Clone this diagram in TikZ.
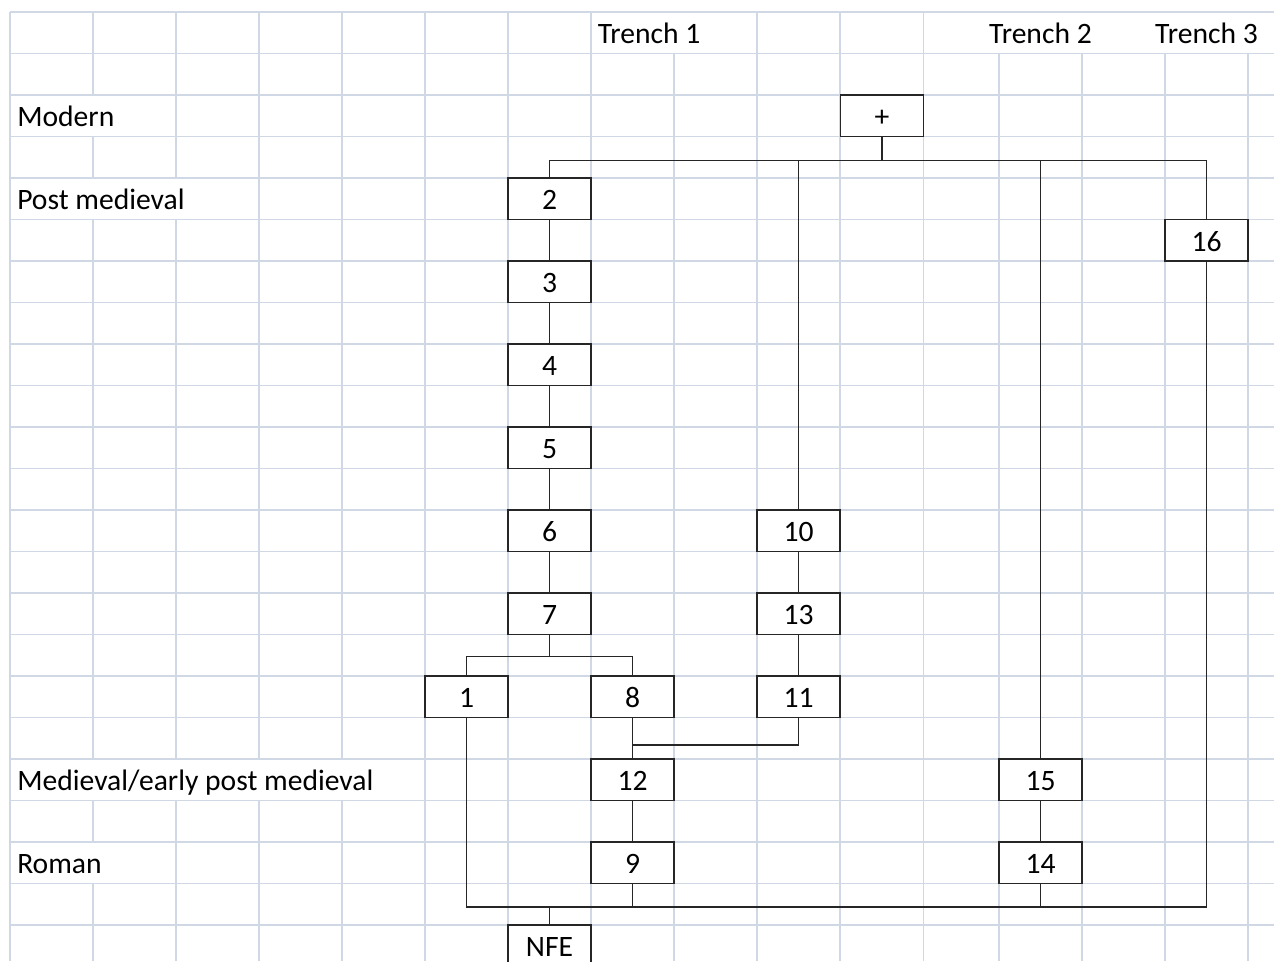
\documentclass[tikz,border=0pt]{standalone}
\usepackage{fontspec}
\setmainfont{Carlito}
\definecolor{gridcol}{RGB}{208,215,229}
\begin{document}
\begin{tikzpicture}[x=0.75pt,y=-0.75pt,
  font=\fontsize{22.2pt}{26pt}\selectfont,
  gridline/.style={draw=gridcol,line width=0.85pt},
  unitbox/.style={draw=black!85,line width=1.35pt,fill=white,inner sep=0pt,
    minimum width=62.25pt,minimum height=31.125pt,text height=16.125pt,text depth=0pt},
  link/.style={draw=black!85,line width=1.3pt},
  rowlabel/.style={inner sep=0pt,anchor=base west},
  headlabel/.style={inner sep=0pt,anchor=base}]
\clip (0,0) rectangle (1274,961);
\fill[white] (0,0) rectangle (1274,961);

% spreadsheet grid: horizontal rules
\foreach \k in {0,...,22}
  \draw[gridline] (10,{12+41.5*\k}) -- (1274,{12+41.5*\k});
% vertical rules, broken where cell text runs across them
\foreach \x in {10,425,508,591,757,840,923.5}
  \draw[gridline] (\x,12) -- (\x,961);
\draw[gridline] (93,12) -- (93,95) (93,136.5) -- (93,178) (93,219.5) -- (93,759)
  (93,800.5) -- (93,842) (93,883.5) -- (93,961);
\draw[gridline] (176,12) -- (176,178) (176,219.5) -- (176,759) (176,800.5) -- (176,961);
\foreach \x in {259,342}
  \draw[gridline] (\x,12) -- (\x,759) (\x,800.5) -- (\x,961);
\foreach \x in {674,999,1082,1165,1248}
  \draw[gridline] (\x,53.5) -- (\x,961);

% column headings and period labels
\node[rowlabel] (tr1) at (597.5,43.5) {Trench 1};
\node[headlabel] (tr2) at (1040.5,43.5) {Trench 2};
\node[headlabel] (tr3) at (1206.5,43.5) {Trench 3};
\node[rowlabel] (pModern) at (17,126.5) {Modern};
\node[rowlabel] (pPost) at (17,209.5) {Post medieval};
\node[rowlabel] (pMed) at (17,790.5) {Medieval/early post medieval};
\node[rowlabel] (pRoman) at (17,873.5) {Roman};

% contexts
\node[unitbox] (plus) at (882,115.75) {+};
\node[unitbox] (b2) at (549.5,198.75) {2};
\node[unitbox] (b3) at (549.5,281.75) {3};
\node[unitbox] (b4) at (549.5,364.75) {4};
\node[unitbox] (b5) at (549.5,447.75) {5};
\node[unitbox] (b6) at (549.5,530.75) {6};
\node[unitbox] (b7) at (549.5,613.75) {7};
\node[unitbox] (b1) at (466.5,696.75) {1};
\node[unitbox] (b8) at (632.5,696.75) {8};
\node[unitbox] (b10) at (798.5,530.75) {10};
\node[unitbox] (b13) at (798.5,613.75) {13};
\node[unitbox] (b11) at (798.5,696.75) {11};
\node[unitbox] (b12) at (632.5,779.75) {12};
\node[unitbox] (b9) at (632.5,862.75) {9};
\node[unitbox] (b15) at (1040.5,779.75) {15};
\node[unitbox] (b14) at (1040.5,862.75) {14};
\node[unitbox] (b16) at (1206.5,240.25) {16};
\node[unitbox] (nfe) at (549.5,945.75) {NFE};

% junction points
\coordinate (topbus) at (882,160.5);
\coordinate (split7) at (549.5,656.5);
\coordinate (join12) at (632.5,745);
\coordinate (botbus) at (549.5,907);

% stratigraphic links
\draw[link] (plus.south) -- (plus.south|-topbus);
\draw[link] (b2.north) |- (topbus) -| (b16.north);
\draw[link] (b10.north|-topbus) -- (b10.north);
\draw[link] (b15.north|-topbus) -- (b15.north);
\draw[link] (b2) -- (b3);
\draw[link] (b3) -- (b4);
\draw[link] (b4) -- (b5);
\draw[link] (b5) -- (b6);
\draw[link] (b6) -- (b7);
\draw[link] (b7.south) -- (split7);
\draw[link] (b1.north) |- (split7) -| (b8.north);
\draw[link] (b10) -- (b13);
\draw[link] (b13) -- (b11);
\draw[link] (b8) -- (b12);
\draw[link] (b11.south) |- (join12);
\draw[link] (b12) -- (b9);
\draw[link] (b15) -- (b14);
\draw[link] (b1.south) |- (botbus) -| (b16.south);
\draw[link] (b9.south) -- (b9.south|-botbus);
\draw[link] (b14.south) -- (b14.south|-botbus);
\draw[link] (nfe.north) -- (nfe.north|-botbus);
\end{tikzpicture}
\end{document}
